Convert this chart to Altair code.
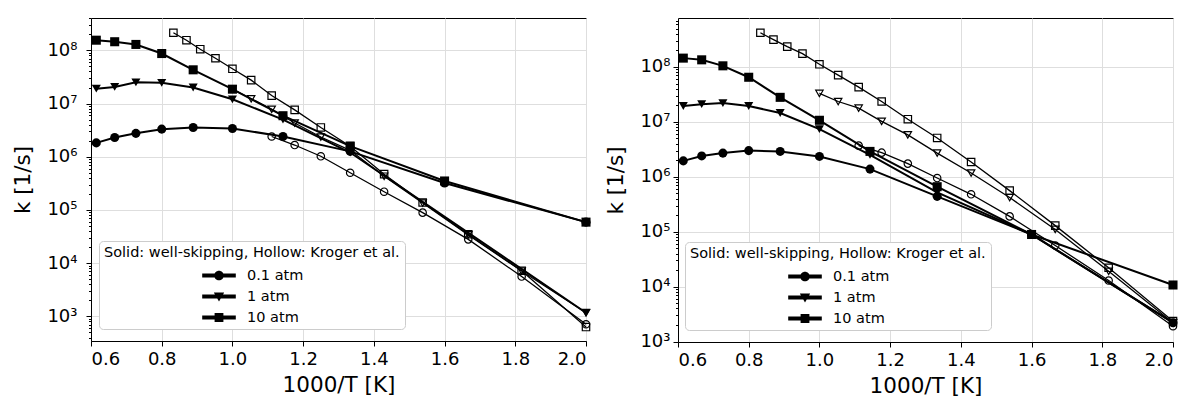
import altair as alt
import pandas as pd

FONT = "DejaVu Sans"
PRESSURES = ["0.1 atm", "1 atm", "10 atm"]
SHAPES = ["circle", "triangle-down", "square"]
LEGEND_TITLE = "Solid: well-skipping, Hollow: Kroger et al."
X_TICKS = [0.6, 0.8, 1.0, 1.2, 1.4, 1.6, 1.8, 2.0]

# 1000/T positions
X_WS = [0.615, 0.667, 0.727, 0.800, 0.889, 1.000, 1.143, 1.333, 1.600, 2.000]
X_KR = [0.833, 0.870, 0.909, 0.952, 1.000, 1.053, 1.111, 1.176, 1.250, 1.333,
        1.429, 1.538, 1.667, 1.818, 2.000]

# ---- left panel ----
L_WS_01 = [1.82e6, 2.3e6, 2.75e6, 3.3e6, 3.55e6, 3.4e6, 2.4e6, 1.26e6, 3.2e5, 5.9e4]
L_WS_1 = [1.9e7, 2.05e7, 2.5e7, 2.45e7, 2.0e7, 1.2e7, 5.0e6, 1.2e6, None, 1.17e3]
L_WS_10 = [1.55e8, 1.45e8, 1.29e8, 8.7e7, 4.3e7, 1.86e7, 5.9e6, 1.58e6, 3.5e5, 5.9e4]
L_KR_01 = [None] * 6 + [2.4e6, 1.66e6, 1.02e6, 5.0e5, 2.2e5, 8.9e4, 2.8e4, 5.6e3, 7.1e2]
L_KR_1 = [None] * 4 + [1.86e7, 1.23e7, 7.8e6, 4.3e6, 2.35e6, 1.32e6, 4.3e5, 1.35e5,
                       3.4e4, 7.1e3, 1.17e3]
L_KR_10 = [2.14e8, 1.55e8, 1.05e8, 7.1e7, 4.5e7, 2.75e7, 1.41e7, 7.6e6, 3.55e6, 1.58e6,
           4.7e5, 1.38e5, 3.5e4, 7.2e3, 6.3e2]

# ---- right panel ----
R_WS_01 = [1.95e6, 2.4e6, 2.7e6, 3.0e6, 2.9e6, 2.35e6, 1.38e6, 4.4e5, 8.9e4, 2.2e3]
R_WS_1 = [1.95e7, 2.1e7, 2.2e7, 1.95e7, 1.45e7, 7.4e6, 2.5e6, 5.2e5, 8.9e4, 2.2e3]
R_WS_10 = [1.45e8, 1.35e8, 1.05e8, 6.5e7, 2.8e7, 1.07e7, 2.9e6, 6.6e5, 8.9e4, 1.07e4]
R_KR_01 = [None] * 6 + [3.7e6, 2.75e6, 1.74e6, 9.5e5, 4.8e5, 1.9e5, 5.6e4, 1.29e4, 1.9e3]
R_KR_1 = [None] * 4 + [3.3e7, 2.35e7, 1.78e7, 1.02e7, 5.8e6, 2.7e6, 1.17e6, 4.2e5,
                       1.1e5, 1.9e4, 2.2e3]
R_KR_10 = [4.2e8, 3.15e8, 2.35e8, 1.75e8, 1.12e8, 7.1e7, 4.3e7, 2.35e7, 1.12e7, 5.1e6,
           1.86e6, 5.6e5, 1.29e5, 2.2e4, 2.35e3]

L_YDOM = [344, 4.05e8]
R_YDOM = [980, 7.8e8]
Y_MAJOR = [1e3, 1e4, 1e5, 1e6, 1e7, 1e8]

# legend handle shapes: thick line + marker (unit coords, 1 unit = 8 px)
LINE = "M-2.1,-0.25H2.1V0.25H-2.1Z"
PATH_C = LINE + " M0.6,0A0.6,0.6,0,1,1,-0.6,0A0.6,0.6,0,1,1,0.6,0Z"
PATH_T = LINE + " M-0.65,-0.5L0.65,-0.5L0,0.62Z"
PATH_S = LINE + " M-0.55,-0.55H0.55V0.55H-0.55Z"

SUP = "['⁰','¹','²','³','⁴','⁵','⁶','⁷','⁸','⁹']"


def build(ws, kr):
    rows = []
    for p, vals in zip(PRESSURES, ws):
        for x, k in zip(X_WS, vals):
            if k is not None:
                rows.append({"x": x, "k": k, "p": p, "src": "ws"})
    for p, vals in zip(PRESSURES, kr):
        for x, k in zip(X_KR, vals):
            if k is not None:
                rows.append({"x": x, "k": k, "p": p, "src": "kr"})
    return pd.DataFrame(rows)


def minor_ticks(dom):
    out = []
    for e in range(1, 10):
        for m in range(2, 10):
            v = m * 10 ** e
            if dom[0] <= v <= dom[1]:
                out.append(v)
    return out


def panel(df, ydom, height, label_pad, leg_x, leg_y):
    xs = alt.Scale(domain=[0.6, 2.0], nice=False, zero=False)
    ys = alt.Scale(type="log", domain=ydom, nice=False)
    x_axis = alt.Axis(values=X_TICKS, format=".1f", title="1000/T [K]", grid=True,
                      labelPadding=4, titlePadding=6)
    y_axis = alt.Axis(values=[v for v in Y_MAJOR if ydom[0] <= v <= ydom[1]],
                      labelExpr="'10' + " + SUP + "[round(log(datum.value)/LN10)]",
                      title="k [1/s]", grid=True, labelPadding=label_pad, titlePadding=12,
                      orient="left")
    minor_axis = alt.Axis(values=minor_ticks(ydom), labels=False, grid=False, domain=False,
                          tickSize=2.5, title=None, orient="left")
    base = alt.Chart(df)
    layers = [
        base.transform_filter("datum.src == 'ws'").mark_line(color="black", strokeWidth=2).encode(
            x=alt.X("x:Q", scale=xs, axis=x_axis),
            y=alt.Y("k:Q", scale=ys, axis=y_axis),
            detail="p:N"),
        base.transform_filter("datum.src == 'kr'").mark_line(color="black", strokeWidth=1.3).encode(
            x=alt.X("x:Q", scale=xs, axis=x_axis),
            y=alt.Y("k:Q", scale=ys, axis=minor_axis),
            detail="p:N"),
    ]
    for p, shp in zip(PRESSURES, SHAPES):
        layers.append(
            base.transform_filter(f"datum.src == 'kr' && datum.p == '{p}'")
            .mark_point(shape=shp, filled=False, color="black", strokeWidth=1.2, size=55, opacity=1)
            .encode(x=alt.X("x:Q", scale=xs, axis=x_axis), y=alt.Y("k:Q", scale=ys, axis=None)))
        layers.append(
            base.transform_filter(f"datum.src == 'ws' && datum.p == '{p}'")
            .mark_point(shape=shp, filled=True, color="black", size=82, opacity=1)
            .encode(x=alt.X("x:Q", scale=xs, axis=x_axis), y=alt.Y("k:Q", scale=ys, axis=None)))
    leg_df = pd.DataFrame({"p": PRESSURES})
    layers.append(
        alt.Chart(leg_df).transform_filter("false")
        .mark_point(filled=True, color="black", opacity=1)
        .encode(
            shape=alt.Shape("p:N", scale=alt.Scale(domain=PRESSURES, range=[PATH_C, PATH_T, PATH_S]),
                            legend=alt.Legend(
                                title=LEGEND_TITLE, orient="none", legendX=leg_x, legendY=leg_y,
                                direction="vertical", fillColor="white", strokeColor="#cccccc",
                                cornerRadius=4, padding=5, titleFontSize=14.5,
                                titleFontWeight="normal", titleColor="black", titleFont=FONT,
                                titlePadding=7, titleLimit=400, labelFontSize=14.5,
                                labelColor="black", labelFont=FONT, labelLimit=200,
                                symbolSize=256, symbolOffset=107, labelOffset=20, rowPadding=6,
                                symbolStrokeWidth=0, symbolFillColor="black", symbolOpacity=1))))
    return alt.layer(*layers).resolve_axis(y="independent").properties(width=495, height=height)


left = panel(build([L_WS_01, L_WS_1, L_WS_10], [L_KR_01, L_KR_1, L_KR_10]), L_YDOM, 323, 9, 8, 223)
right = panel(build([R_WS_01, R_WS_1, R_WS_10], [R_KR_01, R_KR_1, R_KR_10]), R_YDOM, 324, 3, 7, 224)

chart = (
    alt.hconcat(left, right, spacing=12)
    .resolve_scale(shape="independent")
    .properties(padding={"left": 12, "top": 17, "right": 5, "bottom": 5})
    .configure(font=FONT)
    .configure_view(stroke="black", strokeWidth=1)
    .configure_axis(labelFontSize=18, titleFontSize=21.5, titleFontWeight="normal",
                    labelColor="black", titleColor="black", tickColor="black",
                    domainColor="black", gridColor="#dedede", gridWidth=1, tickSize=5,
                    labelFont=FONT, titleFont=FONT)
)
chart.save("out.html", embed_options={"renderer": "svg", "actions": False})
